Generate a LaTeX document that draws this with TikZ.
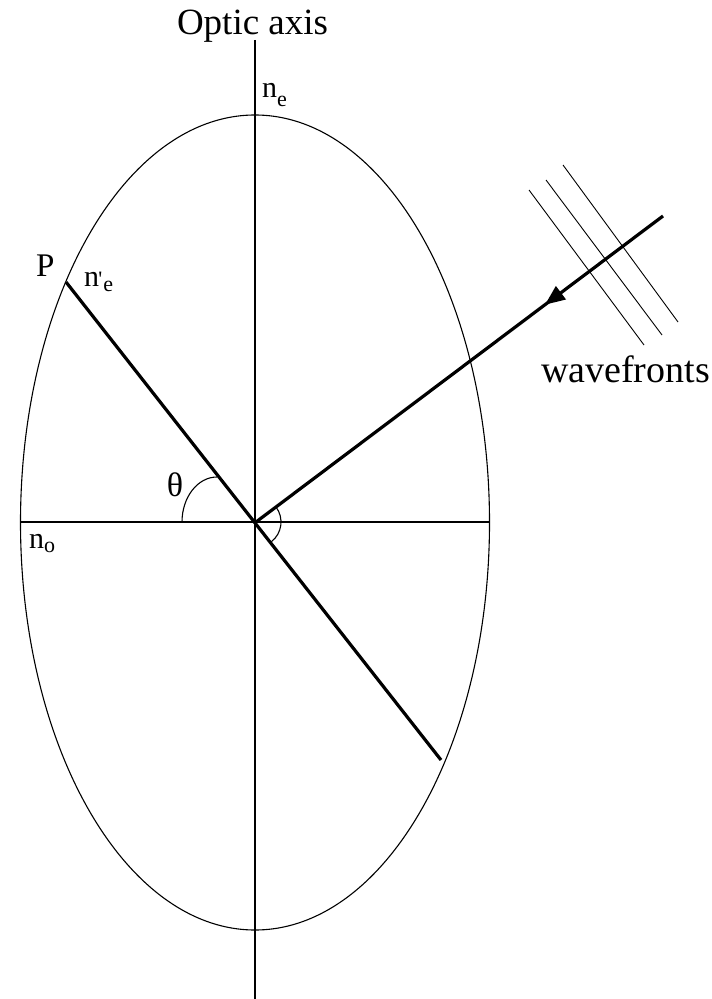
\documentclass[tikz,border=0pt]{standalone}
\usepackage{fontspec}
\setmainfont{Liberation Serif}
\usetikzlibrary{arrows.meta,decorations.markings}
\begin{document}
\begin{tikzpicture}[x=0.5pt,y=-0.5pt,
  thinline/.style={line width=0.55pt},
  thickline/.style={line width=1.6pt},
  wave/.style={line width=0.45pt},
  lbl/.style={inner sep=0pt, outer sep=0pt, anchor=base west},
  midarrow/.style={postaction={decorate}, decoration={markings,
     mark=at position #1 with {\arrow{Triangle[length=10pt,width=8pt]}}}}]
\useasboundingbox (0,0) rectangle (711,999);
% key points
\coordinate (O) at (256,522);
\coordinate (C) at (255,522.5);
\coordinate (A1) at (255,40);
\coordinate (A2) at (255,999);
\coordinate (H1) at (21,522);
\coordinate (H2) at (489,522);
\coordinate (P) at (66,282);
\coordinate (Q) at (441,760);
\coordinate (S) at (663,216);
\coordinate (W1s) at (529,190);
\coordinate (W1e) at (644,345);
\coordinate (W2s) at (546,180);
\coordinate (W2e) at (662,335);
\coordinate (W3s) at (563,165);
\coordinate (W3e) at (678,322);
\coordinate (T1) at (182,522);
% axes and ellipse
\draw[thinline] (A1) -- (A2);
\draw[thinline] (H1) -- (H2);
\draw[thinline] (C) ellipse [x radius=117.25pt, y radius=203.75pt];
% lines
\draw[thickline] (P) -- (Q);
\draw[thickline, midarrow=0.29] (S) -- (O);
% wavefronts
\draw[wave] (W1s) -- (W1e);
\draw[wave] (W2s) -- (W2e);
\draw[wave] (W3s) -- (W3e);
% angle arcs
\draw[thinline] (T1) arc[start angle=180, end angle=90, x radius=17.5pt, y radius=22.5pt];
\draw[thinline] (O) ++(37:12.5pt) arc[start angle=37, end angle=-52, radius=12.5pt];
% labels
\node[lbl, font=\fontsize{18.5}{20}\selectfont] (optic) at (177,35) {Optic axis};
\node[lbl, font=\fontsize{15}{16}\selectfont] (ne) at (262,98) {n\raisebox{-4.5pt}{\fontsize{11}{12}\selectfont e}};
\node[lbl, font=\fontsize{16.5}{18}\selectfont] (plbl) at (36,277) {P};
\node[lbl, font=\fontsize{15}{16}\selectfont] (nprime) at (84,287) {n{\fontsize{11}{12}\selectfont\kern-0.3pt\textquotesingle}\kern0.5pt\raisebox{-2.5pt}{\fontsize{11}{12}\selectfont e}};
\node[lbl, font=\fontsize{15}{16}\selectfont] (no) at (29,548) {n\raisebox{-2pt}{\fontsize{11}{12}\selectfont o}};
\node[inner sep=0pt, font=\fontsize{17}{18}\selectfont] (theta) at (175,485) {θ};
\node[lbl, font=\fontsize{19}{20}\selectfont] (wave) at (541,383) {wavefronts};
\end{tikzpicture}
\end{document}
